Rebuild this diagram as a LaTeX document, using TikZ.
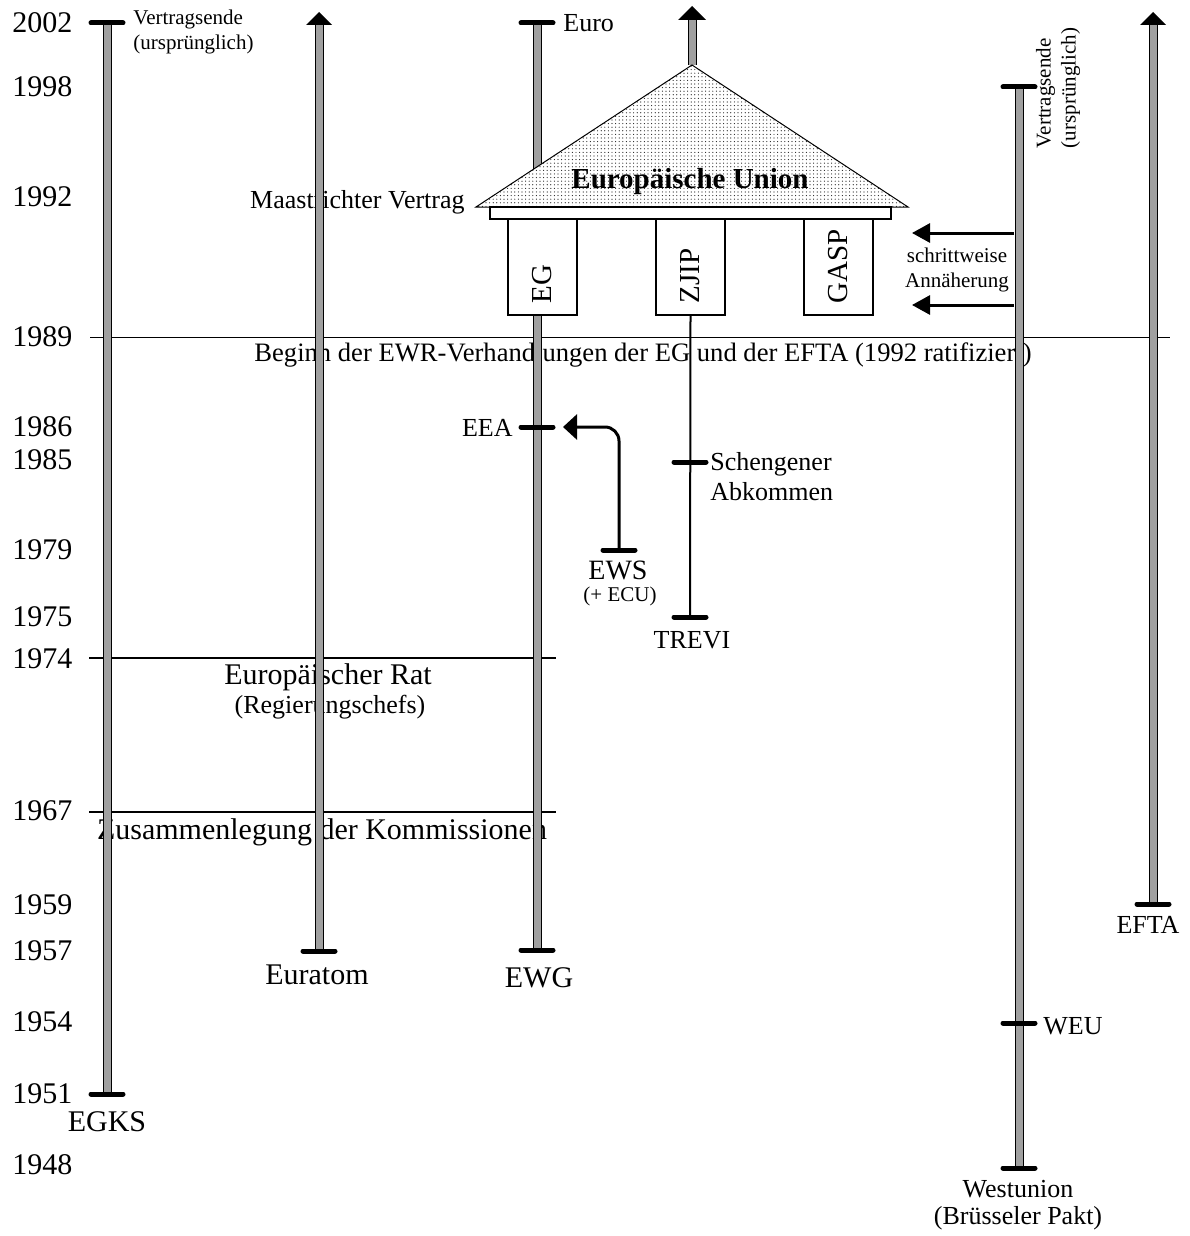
\documentclass[tikz,border=0pt]{standalone}
\usepackage{fontspec}
\setmainfont{Liberation Serif}
\usetikzlibrary{positioning,arrows.meta,calc,patterns.meta}
\definecolor{barfill}{HTML}{A0A0A0}
\definecolor{roofdot}{HTML}{202020}

\tikzset{
  yearlbl/.style={anchor=west, inner sep=0pt, font=\fontsize{15}{18}\selectfont},
  biglbl/.style={inner sep=0pt, font=\fontsize{15}{18}\selectfont},
  midlbl/.style={inner sep=0pt, font=\fontsize{13}{15}\selectfont},
  smalllbl/.style={inner sep=0pt, font=\fontsize{10.5}{12.5}\selectfont},
  timebar/.style={draw=black, line width=0.5pt, double=barfill, double distance=3.5pt},
  endcap/.style={line width=2.5pt, line cap=round},
  pillar/.style={draw, fill=white, line width=0.6pt, inner sep=0pt},
  pointer/.style={line width=1.5pt, -{Triangle[width=9.5pt,length=9pt]}},
}

\begin{document}
\begin{tikzpicture}[x=0.5pt,y=-0.5pt]
\useasboundingbox (0,0) rectangle (1189,1236);

% years on the left
\foreach \yr/\yy in {2002/23,1998/87,1992/197,1989/337,1986/427,1985/460,1979/550,1975/617,1974/659,1967/811,1959/905,1957/951,1954/1022,1951/1094,1948/1165}
  \node[yearlbl] (y\yr) at (12,\yy) {\yr};

% ends of the bars
\coordinate (egks-bot) at (107,1094);
\coordinate (egks-top) at (107,23);
\coordinate (eura-bot) at (319,951);
\coordinate (eura-top) at (319,25);
\coordinate (ewg-bot) at (537,950);
\coordinate (ewg-top) at (537,23);
\coordinate (wu-bot) at (1019,1168);
\coordinate (wu-top) at (1019,87);
\coordinate (efta-bot) at (1153,904);
\coordinate (efta-top) at (1153,25);
\coordinate (apex) at (692,65);
\coordinate (eu-top) at (692,20);

% events
\coordinate (eea-tick) at (537,427);
\coordinate (eea-tip) at (563,427);
\coordinate (ews-tick) at (619,550);
\coordinate (schengen-tick) at (690,462);
\coordinate (trevi-tick) at (690,617);
\coordinate (wu-weu) at (1019,1023);
\coordinate (wu-a1) at (1014,233);
\coordinate (wu-a2) at (1014,305);
\coordinate (ann-a1) at (912,233);
\coordinate (ann-a2) at (912,305);

% horizontal lines
\coordinate (l89a) at (90,337);
\coordinate (l89b) at (1170,337);
\coordinate (l74a) at (89,658);
\coordinate (l74b) at (556,658);
\coordinate (l67a) at (89,812);
\coordinate (l67b) at (556,812);
\draw[line width=0.5pt] (l89a) -- (l89b);
\draw[line width=1pt] (l74a) -- (l74b);
\draw[line width=1pt] (l67a) -- (l67b);

% labels
\node[inner sep=0pt, font=\fontsize{13.3}{15}\selectfont] (ewr) at (643,355) {Beginn der EWR-Verhandlungen der EG und der EFTA (1992 ratifiziert)};
\node[biglbl] (rat) at (328,677) {Europäischer Rat};
\node[midlbl] (ratsub) at (330,707) {(Regierungschefs)};
\node[biglbl] (komm) at (322,832) {Zusammenlegung der Kommissionen};
\node[midlbl, anchor=east] (maas) at (465,202) {Maastrichter Vertrag};
\node[smalllbl, anchor=west, align=left] (vend1) at (133,32) {Vertragsende\\(ursprünglich)};
\node[midlbl, anchor=west] (euro) at (563,23) {Euro};
\node[midlbl, anchor=east] (eea) at (513,428) {EEA};
\node[inner sep=0pt, font=\fontsize{14}{16}\selectfont] (ews) at (618,570) {EWS};
\node[smalllbl] (ecu) at (620,596) {(+ ECU)};
\node[midlbl, anchor=west, align=left] (scheng) at (710,477) {Schengener\\Abkommen};
\node[midlbl] (trevi) at (692,640) {TREVI};
\node[biglbl] (euratom) at (317,975) {Euratom};
\node[biglbl] (ewg) at (539,978) {EWG};
\node[biglbl] (egks) at (107,1122) {EGKS};
\node[midlbl] (efta) at (1148,925) {EFTA};
\node[midlbl, anchor=west] (weu) at (1043,1026) {WEU};
\node[inner sep=0pt, font=\fontsize{13}{13.5}\selectfont, align=center] (wunion) at (1018,1205) {Westunion\\(Brüsseler Pakt)};
\node[smalllbl, align=left, rotate=90] (vend2) at (1058,88) {Vertragsende\\(ursprünglich)};
\node[smalllbl, align=center] (schritt) at (957,270) {schrittweise\\Annäherung};

% the bars
\draw[timebar] (egks-bot) -- (egks-top);
\draw[timebar] (eura-bot) -- (eura-top);
\draw[timebar] (ewg-bot) -- (ewg-top);
\draw[timebar] (wu-bot) -- (wu-top);
\draw[timebar] (efta-bot) -- (efta-top);
\draw[timebar] (apex) -- (eu-top);
\fill ($(eura-top)+(-13,0)$) -- ($(eura-top)+(13,0)$) -- ($(eura-top)+(0,-13)$) -- cycle;
\fill ($(efta-top)+(-13,0)$) -- ($(efta-top)+(13,0)$) -- ($(efta-top)+(0,-13)$) -- cycle;
\fill ($(eu-top)+(-14,0)$) -- ($(eu-top)+(14,0)$) -- ($(eu-top)+(0,-14)$) -- cycle;

% the house of the union
\coordinate (roof-l) at (476,207);
\coordinate (roof-r) at (908,207);
\fill[white] (roof-l) -- (apex) -- (roof-r) -- cycle;
\draw[line width=0.5pt, pattern={Dots[distance=1.8pt,radius=0.3pt]}, pattern color=roofdot] (roof-l) -- (apex) -- (roof-r) -- cycle;
\node[inner sep=0pt, font=\bfseries\fontsize{14.5}{17}\selectfont] (eu) at (690,182) {Europäische Union};
\draw[pillar] (490,207) rectangle (891,219);
\node[pillar, minimum width=34.5pt, minimum height=48pt] (eg) at (542.5,267) {};
\node[pillar, minimum width=34.5pt, minimum height=48pt] (zjip) at (690.5,267) {};
\node[pillar, minimum width=34.5pt, minimum height=48pt] (gasp) at (838.5,267) {};
\node[inner sep=0pt, font=\fontsize{14.5}{17}\selectfont, rotate=90, anchor=west] (eg-t) at ([yshift=6pt]eg.south) {EG};
\node[inner sep=0pt, font=\fontsize{14.5}{17}\selectfont, rotate=90, anchor=west] (zjip-t) at ([yshift=6pt]zjip.south) {ZJIP};
\node[inner sep=0pt, font=\fontsize{14.5}{17}\selectfont, rotate=90, anchor=west] (gasp-t) at ([yshift=6pt]gasp.south) {GASP};

% connectors
\draw[line width=1pt] (zjip.south) -- (trevi-tick);
\draw[line width=1.5pt, rounded corners=7pt, -{Triangle[width=12.5pt,length=7pt]}] (ews-tick) -- (ews-tick |- eea-tick) -- (eea-tip);
\draw[pointer] (wu-a1) -- (ann-a1);
\draw[pointer] (wu-a2) -- (ann-a2);

% end and event ticks
\foreach \c in {egks-top,egks-bot,eura-bot,ewg-top,ewg-bot,wu-top,wu-bot,efta-bot,eea-tick,wu-weu,trevi-tick,schengen-tick,ews-tick}
  \draw[endcap] ($(\c)+(-16,0)$) -- ($(\c)+(16,0)$);
\end{tikzpicture}
\end{document}
